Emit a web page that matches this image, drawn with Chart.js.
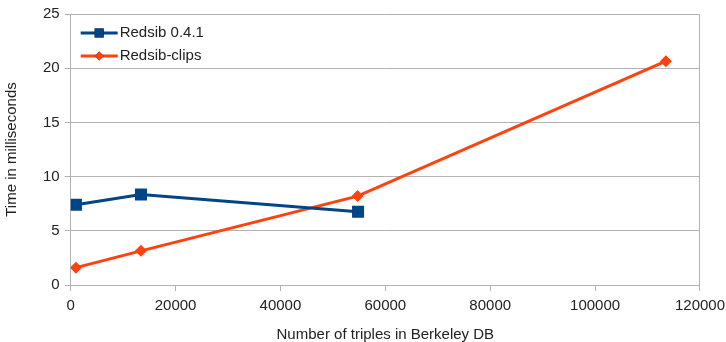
<!DOCTYPE html>
<html lang="en">
<head>
  <meta charset="UTF-8">
  <title>Redsib timings</title>
  <style>
    html, body { margin: 0; padding: 0; background: #fff; }
    #wrap { width: 726px; height: 342px; }
  </style>
</head>
<body>
  <div id="wrap">
    <canvas id="grafico" width="726" height="342"></canvas>
  </div>

  <script src="https://cdn.jsdelivr.net/npm/chart.js"></script>

  <script>
    // Datos
    const triplesRedsib = [1000, 13400, 54800];
    const tiempoRedsib = [7.4, 8.35, 6.75];
    const triplesClips = [1000, 13400, 54700, 113500];
    const tiempoClips = [1.6, 3.15, 8.2, 20.65];
    const yTicks = [0, 5, 10, 15, 20, 25];
    const xTicks = [0, 20000, 40000, 60000, 80000, 100000, 120000];

    const gris = '#b3b3b3';
    const texto = '#222';
    const fuente = { family: '"Liberation Sans", Arial, sans-serif', size: 15 };

    function puntos(xs, ys) {
      return xs.map((x, i) => ({ x: x, y: ys[i] }));
    }

    // Leyenda dentro del area: linea + marcador
    const leyendaInterna = {
      id: 'leyendaInterna',
      afterDraw(chart) {
        const ctx = chart.ctx;
        const area = chart.chartArea;
        chart.data.datasets.forEach((ds, i) => {
          const y = area.top + 19 + i * 23;
          const x0 = area.left + 10;
          const x1 = x0 + 37;
          ctx.save();
          ctx.strokeStyle = ds.borderColor;
          ctx.lineWidth = ds.borderWidth;
          ctx.beginPath();
          ctx.moveTo(x0, y);
          ctx.lineTo(x1, y);
          ctx.stroke();
          Chart.helpers.drawPoint(ctx, {
            pointStyle: ds.pointStyle,
            radius: ds.pointRadius * 0.75,
            borderWidth: 0
          }, (x0 + x1) / 2, y);
          ctx.fillStyle = ds.pointBackgroundColor;
          ctx.fill();
          ctx.fillStyle = texto;
          ctx.font = `${fuente.size}px ${fuente.family}`;
          ctx.textBaseline = 'middle';
          ctx.fillText(ds.label, x1 + 2, y);
          ctx.restore();
        });
      }
    };

    const grafico = new Chart(document.querySelector('#grafico'), {
      type: 'line',
      data: {
        datasets: [
          {
            label: 'Redsib 0.4.1',
            data: puntos(triplesRedsib, tiempoRedsib),
            borderColor: '#004586',
            backgroundColor: '#004586',
            pointBackgroundColor: '#004586',
            pointBorderColor: '#004586',
            borderWidth: 3,
            pointStyle: 'rect',
            pointRadius: 8.5,
            pointBorderWidth: 0,
            tension: 0
          },
          {
            label: 'Redsib-clips',
            data: puntos(triplesClips, tiempoClips),
            borderColor: '#ff420e',
            backgroundColor: '#ff420e',
            pointBackgroundColor: '#ff420e',
            pointBorderColor: '#ff420e',
            borderWidth: 3,
            pointStyle: 'rectRot',
            pointRadius: 6,
            pointBorderWidth: 0,
            tension: 0
          }
        ]
      },
      options: {
        responsive: false,
        animation: false,
        layout: { padding: { top: 12, right: 0, bottom: 0, left: 3 } },
        plugins: {
          legend: { display: false },
          tooltip: { enabled: false }
        },
        scales: {
          x: {
            type: 'linear',
            min: 0,
            max: 120000,
            afterBuildTicks: axis => { axis.ticks = xTicks.map(v => ({ value: v })); },
            // deja que la ultima etiqueta se acerque al borde
            afterFit: axis => { axis.paddingRight = Math.max(0, axis.paddingRight - 5); },
            ticks: {
              color: texto,
              font: fuente,
              padding: 6,
              maxRotation: 0,
              callback: v => String(v)
            },
            grid: {
              color: c => (c.tick && c.tick.value === 120000) ? gris : 'rgba(0,0,0,0)',
              tickColor: gris,
              tickLength: 6,
              lineWidth: 1
            },
            border: { color: gris },
            title: {
              display: true,
              text: 'Number of triples in Berkeley DB',
              color: texto,
              font: { family: fuente.family, size: 15, lineHeight: 1 },
              padding: { top: 6, bottom: 0 }
            }
          },
          y: {
            min: 0,
            max: 25,
            afterBuildTicks: axis => { axis.ticks = yTicks.map(v => ({ value: v })); },
            ticks: { color: texto, font: fuente, padding: 5 },
            grid: { color: gris, tickColor: gris, tickLength: 6, lineWidth: 1 },
            border: { color: gris },
            title: {
              display: true,
              text: 'Time in milliseconds',
              color: texto,
              font: fuente,
              padding: { top: 0, bottom: 17 }
            }
          }
        }
      },
      plugins: [leyendaInterna]
    });
  </script>
</body>
</html>
